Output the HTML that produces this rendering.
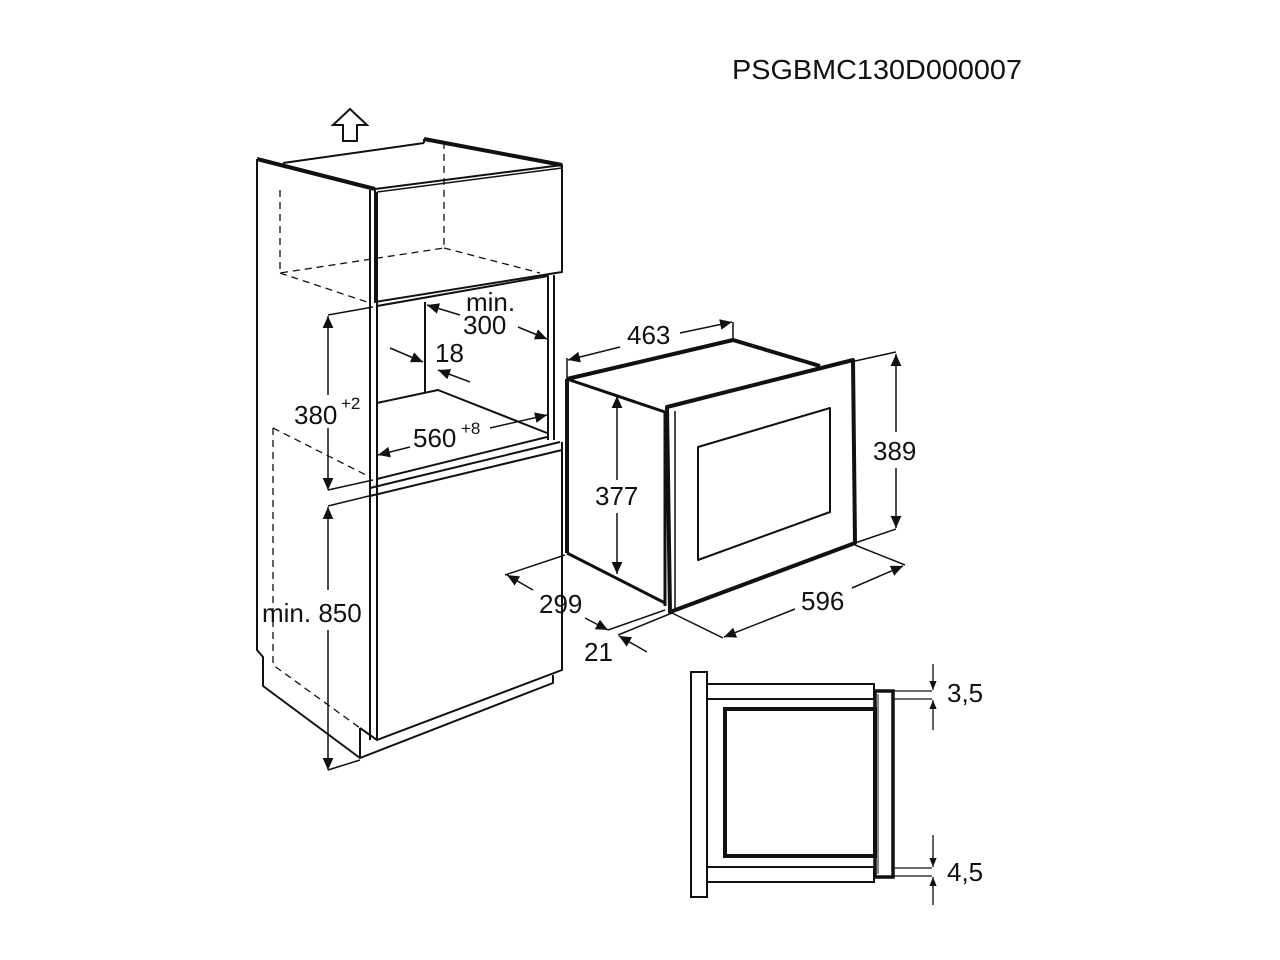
<!DOCTYPE html>
<html><head><meta charset="utf-8"><style>
html,body{margin:0;padding:0;background:#fff;}
svg{display:block;}
text{font-family:"Liberation Sans",Arial,sans-serif;fill:#111;}
</style></head><body>
<svg width="1280" height="960" viewBox="0 0 1280 960" xmlns="http://www.w3.org/2000/svg">
<defs>
<marker id="a" viewBox="0 0 10 10" refX="10" refY="5" markerWidth="9" markerHeight="9" markerUnits="userSpaceOnUse" orient="auto-start-reverse">
<path d="M0,1 L10,5 L0,9 Z" fill="#111"/></marker>
<marker id="b" viewBox="0 0 10 10" refX="10" refY="5" markerWidth="12" markerHeight="12" markerUnits="userSpaceOnUse" orient="auto-start-reverse">
<path d="M0,0.5 L10,5 L0,9.5 Z" fill="#111"/></marker>
</defs>
<text x="732" y="79" font-size="28" textLength="290" lengthAdjust="spacingAndGlyphs">PSGBMC130D000007</text>

<!-- up arrow -->
<path d="M350,109 L367,125 L357,125 L357,141 L343,141 L343,125 L333,125 Z" fill="none" stroke="#111" stroke-width="2"/>

<g fill="none" stroke="#111" stroke-linejoin="round">
<!-- cabinet outline -->
<path d="M257,159 L257,650 L263,657 L263,686 L360,758 L553,683 L553,675" stroke-width="2"/>
<path d="M257,159 L375,189" stroke-width="4"/>
<path d="M283,163 L424,143 M424,139 L424,143" stroke-width="2"/>
<path d="M424,139 L562,165" stroke-width="4"/>
<path d="M375,189 L562,165 L562,272 L375,302 Z" stroke-width="2"/>
<path d="M377,192 L562,168" stroke-width="1.5"/>
<path d="M370,190 L370,740 M377,192 L377,740" stroke-width="2"/>
<path d="M360,728 L360,758 M360,728 L377,740 L562,670 L562,442" stroke-width="2"/>
<!-- opening -->
<path d="M377,306 L548,276 L548,440 M554,275 L554,440" stroke-width="2"/>
<path d="M425,302 L425,392 M377,403 L438,390 L547,433" stroke-width="2"/>
<path d="M377,479 L547,437 M370,488 L560,442 M370,496 L562,450" stroke-width="2"/>
<!-- dashed -->
<g stroke-width="1.3" stroke-dasharray="7,5">
<path d="M280,190 L280,273 L444,248 L444,145 M444,248 L540,273 M280,273 L370,303"/>
<path d="M273,428 L370,477 M273,428 L273,665 L360,728"/>
</g>
</g>

<!-- cabinet dims -->
<g stroke="#111" stroke-width="1.5" fill="none">
<path d="M328,315 L373,307 M328,490 L373,480 M328,506 L373,495 M328,770 L360,760"/>
<line x1="328" y1="395" x2="328" y2="316" marker-end="url(#b)"/>
<line x1="328" y1="428" x2="328" y2="490" marker-end="url(#b)"/>
<line x1="328" y1="590" x2="328" y2="507" marker-end="url(#b)"/>
<line x1="328" y1="630" x2="328" y2="770" marker-end="url(#b)"/>
<line x1="390" y1="348" x2="423" y2="362" marker-end="url(#b)"/>
<line x1="470" y1="382" x2="438" y2="370" marker-end="url(#b)"/>
<line x1="460" y1="315" x2="427" y2="305" marker-end="url(#b)"/>
<line x1="518" y1="327" x2="547" y2="339" marker-end="url(#b)"/>
<line x1="410" y1="447" x2="378" y2="455" marker-end="url(#b)"/>
<line x1="490" y1="428" x2="547" y2="415" marker-end="url(#b)"/>
</g>
<text x="294" y="424" font-size="26">380</text><text x="341" y="409" font-size="17">+2</text>
<text x="262" y="622" font-size="26">min. 850</text>
<text x="435" y="362" font-size="26">18</text>
<text x="466" y="311" font-size="26">min.</text>
<text x="463" y="334" font-size="26">300</text>
<text x="413" y="447" font-size="26">560</text><text x="461" y="434" font-size="17">+8</text>

<!-- microwave -->
<g fill="none" stroke="#111" stroke-linejoin="round">
<path d="M567,379 L733,340 L820,366" stroke-width="4"/>
<path d="M567,379 L567,553" stroke-width="4"/>
<path d="M567,379 L665,412 M567,553 L665,603" stroke-width="3"/>
<path d="M667,407 L853,360 L855,543 L670,612 Z" stroke-width="4"/>
<path d="M675,411 L675,610" stroke-width="1.5"/>
<path d="M665,412 L665,606" stroke-width="3"/>
<path d="M698,447 L830,408 L830,512 L698,560 Z" stroke-width="2"/>
</g>
<g stroke="#111" stroke-width="1.5" fill="none">
<path d="M567,358 L567,379 M733,322 L733,340"/>
<line x1="620" y1="347" x2="568" y2="360" marker-end="url(#b)"/>
<line x1="680" y1="333" x2="732" y2="322" marker-end="url(#b)"/>
<line x1="617" y1="480" x2="617" y2="396" marker-end="url(#b)"/>
<line x1="617" y1="513" x2="617" y2="574" marker-end="url(#b)"/>
<path d="M855,361 L896,352 M855,543 L896,529"/>
<line x1="896" y1="432" x2="896" y2="354" marker-end="url(#b)"/>
<line x1="896" y1="468" x2="896" y2="528" marker-end="url(#b)"/>
<path d="M855,545 L905,565 M670,612 L723,638"/>
<line x1="795" y1="609" x2="724" y2="637" marker-end="url(#b)"/>
<line x1="852" y1="588" x2="903" y2="566" marker-end="url(#b)"/>
<path d="M565,555 L505,575 M608,630 L665,610 M618,635 L672,613"/>
<line x1="533" y1="590" x2="507" y2="575" marker-end="url(#b)"/>
<line x1="585" y1="618" x2="608" y2="630" marker-end="url(#b)"/>
<line x1="647" y1="652" x2="619" y2="636" marker-end="url(#b)"/>
<path d="M562,442 L562,585 M562,618 L562,670"/>
</g>
<text x="627" y="344" font-size="26">463</text>
<text x="595" y="505" font-size="26">377</text>
<text x="873" y="460" font-size="26">389</text>
<text x="801" y="610" font-size="26">596</text>
<text x="539" y="613" font-size="26">299</text>
<text x="584" y="661" font-size="26">21</text>

<!-- section -->
<g fill="none" stroke="#111">
<rect x="691" y="672" width="16" height="225" stroke-width="2"/>
<path d="M707,684 L874,684 L874,699 L707,699" stroke-width="2"/>
<path d="M707,867 L874,867 L874,882 L707,882" stroke-width="2"/>
<rect x="725" y="709" width="150" height="147" stroke-width="4"/>
<rect x="875" y="691" width="18" height="186" stroke-width="3.5"/>
<path d="M878,694 L878,874" stroke-width="1"/>
</g>
<g stroke="#111" stroke-width="1.3" fill="none">
<path d="M893,691 L932,691 M893,699 L932,699 M893,868 L932,868 M893,876 L932,876"/>
<line x1="933" y1="664" x2="933" y2="690" marker-end="url(#a)"/>
<line x1="933" y1="730" x2="933" y2="700" marker-end="url(#a)"/>
<line x1="933" y1="835" x2="933" y2="867" marker-end="url(#a)"/>
<line x1="933" y1="905" x2="933" y2="877" marker-end="url(#a)"/>
</g>
<text x="947" y="702" font-size="26">3,5</text>
<text x="947" y="881" font-size="26">4,5</text>
</svg>
</body></html>
